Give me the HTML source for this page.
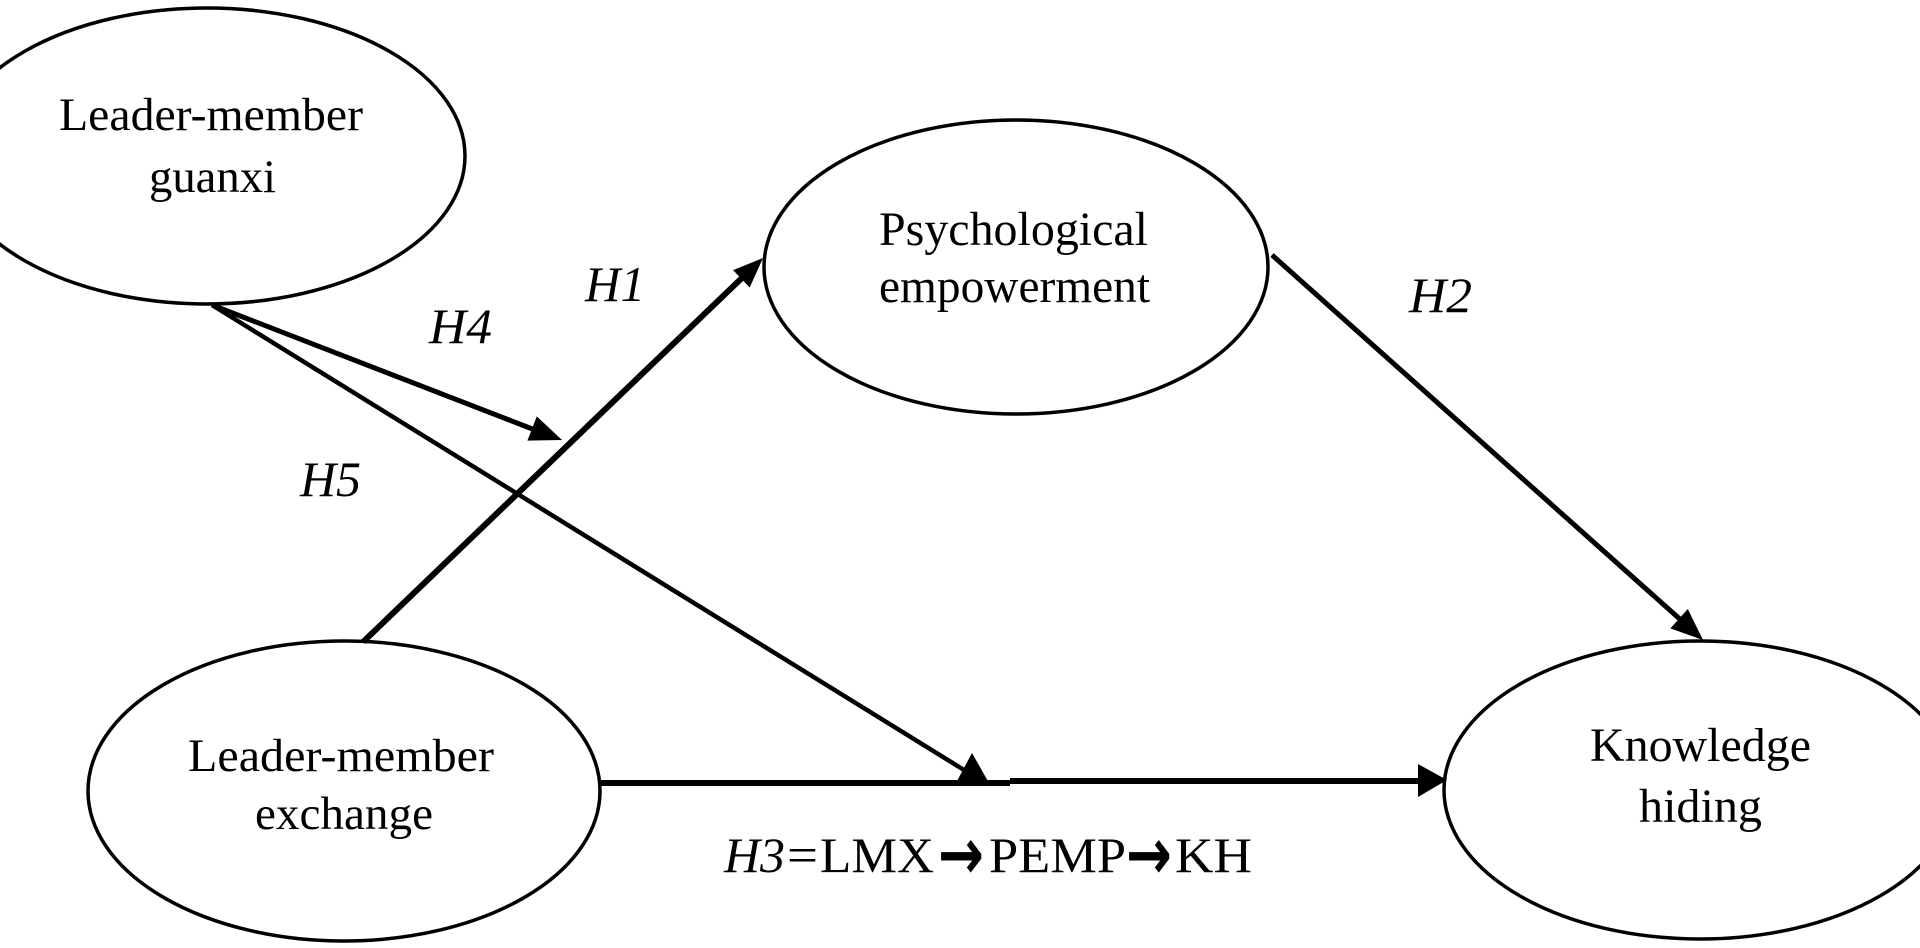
<!DOCTYPE html>
<html>
<head>
<meta charset="utf-8">
<style>
  html, body { margin:0; padding:0; background:#fff; }
  body { width:1920px; height:948px; overflow:hidden; }
  svg { display:block; }
  text { font-family: "Liberation Serif", "DejaVu Serif", serif; fill:#000; }
  text.arr { font-family: "DejaVu Sans", "Liberation Sans", sans-serif; font-weight: bold; }
</style>
</head>
<body>
<svg width="1920" height="948" viewBox="0 0 1920 948" xmlns="http://www.w3.org/2000/svg">
  <rect x="0" y="0" width="1920" height="948" fill="#fff"/>

  <!-- Ellipses -->
  <ellipse cx="207" cy="156" rx="258" ry="148" fill="none" stroke="#000" stroke-width="3.5"/>
  <ellipse cx="1016" cy="267" rx="252" ry="147" fill="none" stroke="#000" stroke-width="3.5"/>
  <ellipse cx="344" cy="791" rx="256" ry="150" fill="none" stroke="#000" stroke-width="3.5"/>
  <ellipse cx="1700" cy="790" rx="256" ry="149" fill="none" stroke="#000" stroke-width="3.5"/>

  <!-- H1: LMX -> PE -->
  <line x1="363" y1="642" x2="745" y2="275" stroke="#000" stroke-width="6"/>
  <polygon points="763,258 749.7,287.5 733.1,270.1" fill="#000"/>

  <!-- H4: LMG -> H1 path -->
  <line x1="212" y1="305" x2="535" y2="430" stroke="#000" stroke-width="5"/>
  <polygon points="562,440 527.4,440.6 536.8,416.4" fill="#000"/>

  <!-- H5: LMG -> LMX->KH path -->
  <line x1="212" y1="305" x2="964" y2="770" stroke="#000" stroke-width="4.5"/>
  <polygon points="972,753 956,783 989,783" fill="#000"/>

  <!-- LMX -> KH horizontal -->
  <line x1="600" y1="783" x2="1010" y2="783" stroke="#000" stroke-width="6"/>
  <line x1="1010" y1="781" x2="1422" y2="781" stroke="#000" stroke-width="6"/>
  <polygon points="1447,780 1418,764 1418,797" fill="#000"/>

  <!-- H2: PE -> KH -->
  <line x1="1272" y1="255" x2="1682" y2="621" stroke="#000" stroke-width="5"/>
  <polygon points="1703,640 1670.4,628.4 1687.8,609.0" fill="#000"/>

  <!-- Node labels -->
  <text x="59" y="130" font-size="47" textLength="304" lengthAdjust="spacingAndGlyphs">Leader-member</text>
  <text x="149" y="192" font-size="47" textLength="127" lengthAdjust="spacingAndGlyphs">guanxi</text>

  <text x="879" y="245" font-size="48" textLength="269" lengthAdjust="spacingAndGlyphs">Psychological</text>
  <text x="879" y="302" font-size="48" textLength="271" lengthAdjust="spacingAndGlyphs">empowerment</text>

  <text x="188" y="771" font-size="47" textLength="306" lengthAdjust="spacingAndGlyphs">Leader-member</text>
  <text x="255" y="829" font-size="47" textLength="178" lengthAdjust="spacingAndGlyphs">exchange</text>

  <text x="1590" y="761" font-size="48" textLength="221" lengthAdjust="spacingAndGlyphs">Knowledge</text>
  <text x="1639" y="822" font-size="48" textLength="123" lengthAdjust="spacingAndGlyphs">hiding</text>

  <!-- Hypothesis labels -->
  <text x="585" y="301" font-size="50" font-style="italic" textLength="60" lengthAdjust="spacingAndGlyphs">H1</text>
  <text x="429" y="343" font-size="50" font-style="italic" textLength="63" lengthAdjust="spacingAndGlyphs">H4</text>
  <text x="300" y="496" font-size="50" font-style="italic" textLength="61" lengthAdjust="spacingAndGlyphs">H5</text>
  <text x="1409" y="312" font-size="50" font-style="italic" textLength="63" lengthAdjust="spacingAndGlyphs">H2</text>

  <!-- H3 formula -->
  <text x="724" y="872" font-size="50" font-style="italic" textLength="61" lengthAdjust="spacingAndGlyphs">H3</text>
  <text x="787" y="872" font-size="50" textLength="31" lengthAdjust="spacingAndGlyphs">=</text>
  <text x="820" y="872" font-size="50" textLength="114" lengthAdjust="spacingAndGlyphs">LMX</text>
  <text class="arr" x="938" y="879" font-size="72" textLength="46" lengthAdjust="spacingAndGlyphs">→</text>
  <text x="989" y="872" font-size="50" textLength="137" lengthAdjust="spacingAndGlyphs">PEMP</text>
  <text class="arr" x="1126" y="879" font-size="72" textLength="46" lengthAdjust="spacingAndGlyphs">→</text>
  <text x="1175" y="872" font-size="50" textLength="77" lengthAdjust="spacingAndGlyphs">KH</text>
</svg>
</body>
</html>
